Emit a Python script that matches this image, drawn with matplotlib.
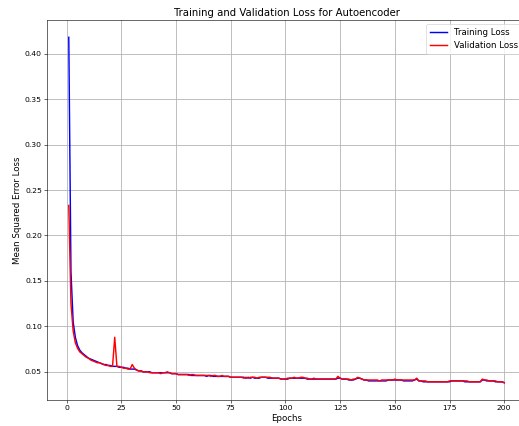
import matplotlib
matplotlib.use("Agg")
import matplotlib.pyplot as plt
import numpy as np

epochs = list(range(1, 201))

val_loss = [
    0.233, 0.125, 0.095, 0.082, 0.076, 0.072, 0.070, 0.068, 0.066, 0.065,
    0.063, 0.062, 0.061, 0.060, 0.060, 0.059, 0.058, 0.057, 0.057, 0.056,
    0.056, 0.088, 0.056, 0.056, 0.055, 0.054, 0.054, 0.053, 0.053, 0.058,
    0.054, 0.052, 0.051, 0.051, 0.050, 0.050, 0.050, 0.049, 0.049, 0.049,
    0.049, 0.049, 0.048, 0.049, 0.049, 0.050, 0.049, 0.048, 0.048, 0.048,
    0.047, 0.047, 0.047, 0.047, 0.047, 0.046, 0.047, 0.047, 0.046, 0.046,
    0.046, 0.046, 0.046, 0.046, 0.046, 0.045, 0.046, 0.046, 0.045, 0.045,
    0.046, 0.045, 0.045, 0.045, 0.044, 0.044, 0.044, 0.044, 0.044, 0.044,
    0.043, 0.044, 0.043, 0.044, 0.044, 0.044, 0.043, 0.044, 0.044, 0.044,
    0.044, 0.044, 0.044, 0.043, 0.043, 0.043, 0.043, 0.042, 0.042, 0.042,
    0.043, 0.043, 0.043, 0.044, 0.043, 0.043, 0.044, 0.044, 0.043, 0.043,
    0.042, 0.042, 0.043, 0.042, 0.042, 0.042, 0.042, 0.042, 0.042, 0.042,
    0.042, 0.042, 0.042, 0.045, 0.043, 0.042, 0.042, 0.042, 0.042, 0.041,
    0.042, 0.042, 0.044, 0.043, 0.042, 0.041, 0.041, 0.041, 0.041, 0.041,
    0.041, 0.041, 0.040, 0.041, 0.041, 0.041, 0.041, 0.041, 0.041, 0.042,
    0.041, 0.041, 0.041, 0.041, 0.041, 0.041, 0.041, 0.041, 0.041, 0.043,
    0.040, 0.040, 0.040, 0.040, 0.039, 0.039, 0.039, 0.039, 0.039, 0.039,
    0.039, 0.039, 0.039, 0.039, 0.040, 0.040, 0.040, 0.040, 0.040, 0.040,
    0.040, 0.040, 0.040, 0.039, 0.039, 0.039, 0.039, 0.039, 0.039, 0.042,
    0.041, 0.041, 0.040, 0.040, 0.040, 0.040, 0.039, 0.039, 0.039, 0.038,
]

train_loss = [
    0.418, 0.160, 0.105, 0.088, 0.079, 0.074, 0.071, 0.069, 0.067, 0.065,
    0.064, 0.063, 0.062, 0.061, 0.060, 0.059, 0.058, 0.058, 0.057, 0.057,
    0.056, 0.056, 0.056, 0.055, 0.055, 0.055, 0.054, 0.054, 0.053, 0.053,
    0.053, 0.052, 0.051, 0.051, 0.050, 0.050, 0.050, 0.050, 0.049, 0.049,
    0.049, 0.049, 0.049, 0.049, 0.049, 0.049, 0.049, 0.048, 0.048, 0.048,
    0.047, 0.047, 0.047, 0.047, 0.047, 0.047, 0.046, 0.046, 0.046, 0.046,
    0.046, 0.046, 0.046, 0.045, 0.046, 0.046, 0.045, 0.045, 0.045, 0.045,
    0.045, 0.045, 0.045, 0.045, 0.044, 0.044, 0.044, 0.044, 0.044, 0.044,
    0.044, 0.043, 0.044, 0.043, 0.044, 0.043, 0.043, 0.043, 0.044, 0.044,
    0.044, 0.043, 0.043, 0.043, 0.043, 0.043, 0.043, 0.042, 0.042, 0.042,
    0.042, 0.043, 0.043, 0.043, 0.043, 0.043, 0.043, 0.043, 0.043, 0.042,
    0.042, 0.042, 0.042, 0.042, 0.042, 0.042, 0.042, 0.042, 0.042, 0.042,
    0.042, 0.042, 0.042, 0.043, 0.043, 0.042, 0.042, 0.042, 0.041, 0.041,
    0.041, 0.042, 0.043, 0.043, 0.042, 0.041, 0.041, 0.040, 0.040, 0.040,
    0.040, 0.040, 0.040, 0.040, 0.040, 0.040, 0.041, 0.041, 0.041, 0.041,
    0.041, 0.041, 0.041, 0.040, 0.040, 0.040, 0.040, 0.040, 0.041, 0.042,
    0.040, 0.040, 0.039, 0.039, 0.039, 0.039, 0.039, 0.039, 0.039, 0.039,
    0.039, 0.039, 0.039, 0.039, 0.039, 0.040, 0.040, 0.040, 0.040, 0.040,
    0.040, 0.039, 0.039, 0.039, 0.039, 0.039, 0.039, 0.039, 0.039, 0.041,
    0.041, 0.040, 0.040, 0.040, 0.040, 0.039, 0.039, 0.039, 0.039, 0.038,
]

W, H = 519, 426
dpi = 51.9
fig = plt.figure(figsize=(W / dpi, H / dpi), dpi=dpi)
ax = fig.add_axes([47 / W, (H - 400) / H, (526 - 47) / W, (400 - 20) / H])

ax.plot(epochs, train_loss, color="blue", linewidth=2, label="Training Loss")
ax.plot(epochs, val_loss, color="red", linewidth=2, label="Validation Loss")
ax.set_title("Training and Validation Loss for Autoencoder", fontsize=14)
ax.set_xlabel("Epochs", fontsize=12)
ax.set_ylabel("Mean Squared Error Loss", fontsize=12)
ax.tick_params(labelsize=10.5)
ax.legend(loc="upper right", fontsize=12)
ax.grid(True, linewidth=1.1)

fig.savefig("out.png", dpi=dpi)
